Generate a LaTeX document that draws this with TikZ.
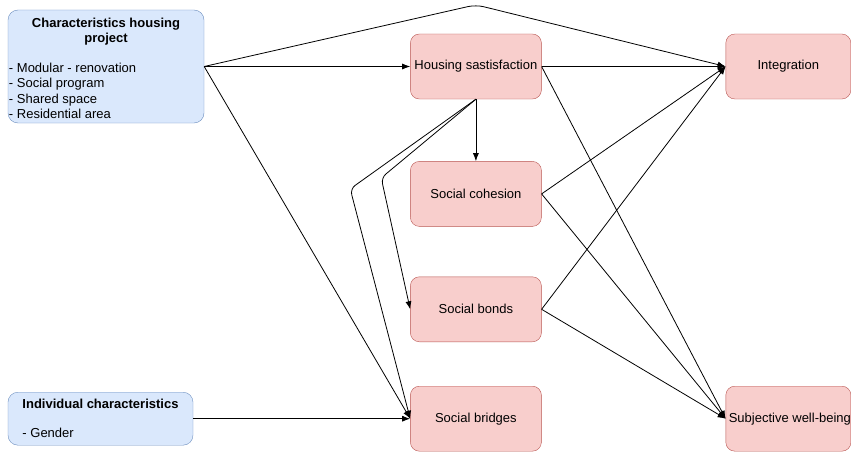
\documentclass[tikz,border=0pt]{standalone}
\usepackage{fontspec}
\setmainfont{Liberation Sans}
\usepackage{tikz}
\usetikzlibrary{arrows.meta,positioning,calc}
\definecolor{blueFill}{HTML}{DAE8FC}
\definecolor{blueLine}{HTML}{6C8EBF}
\definecolor{redFill}{HTML}{F8CECC}
\definecolor{redLine}{HTML}{B85450}

\begin{document}
\begin{tikzpicture}[x=1pt, y=1pt,
hbox/.style={draw=blueLine, fill=blueFill, rounded corners=10pt, font=\fontsize{13}{15.5}\selectfont},
rbox/.style={draw=redLine, fill=redFill, rounded corners=9pt, minimum width=131pt, minimum height=65pt, font=\fontsize{13}{15.5}\selectfont},
txt/.style={inner sep=1pt, font=\fontsize{13}{15.5}\selectfont},
arrow/.style={-{Latex[length=8pt,width=6pt]}, line width=0.8pt}
]
\useasboundingbox (0,0) rectangle (851,-452);
\node[hbox, minimum width=196pt, minimum height=113pt] (chp) at (106,-66.5) {};
\node[txt, align=center, below=7pt of chp.north] (chptitle) {\textbf{Characteristics housing}\\\textbf{project}};
\node[txt, align=left, above right=3pt and 0pt of chp.south west] (chplist) {- Modular - renovation\\- Social program\\- Shared space\\- Residential area};
\node[rbox, right=206pt of chp] (hs) {Housing sastisfaction};
\node[rbox, right=184pt of hs, minimum width=125pt] (integ) {Integration};
\node[rbox, below=62pt of hs] (sc) {Social cohesion};
\node[rbox, below=50pt of sc] (sb) {Social bonds};
\node[rbox, below=44pt of sb] (sbr) {Social bridges};
\node[rbox, right=184pt of sbr, minimum width=125pt, inner xsep=0pt] (swb) {\hspace{3pt}Subjective well-being};
\node[hbox, left=217pt of sbr, minimum width=185pt, minimum height=53pt, align=left] (ic) {\textbf{Individual characteristics}\\[13.5pt]- Gender};
\coordinate[above=29pt of hs.north] (apex);
\coordinate (bendA) at ($(sc.west)+(-60,5)$);
\coordinate (bendB) at ($(sc.west)+(-29,16)$);
\draw[arrow] (chp.east) -- (chp.east -| hs.west);
\draw[arrow, rounded corners=8pt] (chp.east) -- (apex) -- (integ.west);
\draw[arrow] (chp.east) -- (sbr.west);
\draw[arrow] (hs.east) -- (integ.west);
\draw[arrow] (hs.south) -- (sc.north);
\draw[arrow, rounded corners=6pt] (hs.south) -- (bendA) -- (sbr.west);
\draw[arrow, rounded corners=6pt] (hs.south) -- (bendB) -- (sb.west);
\draw[arrow] (hs.east) -- (swb.west);
\draw[arrow] (sc.east) -- (integ.west);
\draw[arrow] (sc.east) -- (swb.west);
\draw[arrow] (sb.east) -- (integ.west);
\draw[arrow] (sb.east) -- (swb.west);
\draw[arrow] (ic.east) -- (sbr.west);
\end{tikzpicture}
\end{document}
